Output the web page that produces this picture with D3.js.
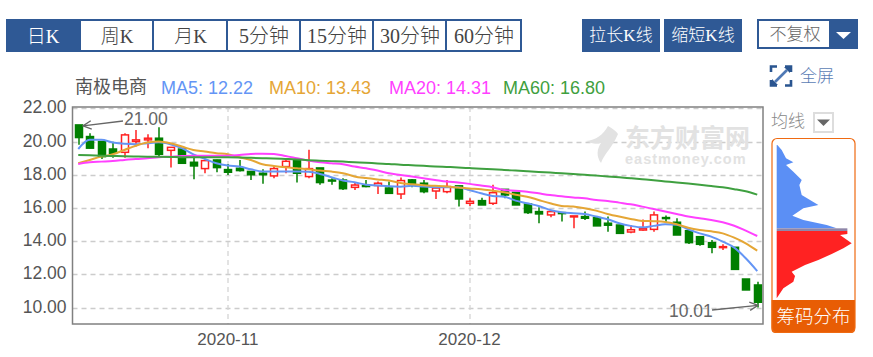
<!DOCTYPE html>
<html lang="zh-CN">
<head>
<meta charset="utf-8">
<script src="https://d3js.org/d3.v7.min.js"></script>
<style>
  html, body { margin: 0; padding: 0; background: #fff; }
  svg { display: block; }
  text { font-family: "Liberation Sans", "Noto Sans CJK SC", sans-serif; }
  .serif { font-family: "Liberation Serif", "Noto Sans CJK SC", serif; font-weight: 300; }
</style>
</head>
<body>
<script>
// candles, one entry per trading day
var opens  = [21.00,20.30,20.00,19.55,19.35,20.00,20.10,20.20,19.47,19.55,18.75,18.37,18.89,18.31,18.39,18.20,18.09,17.93,18.49,18.89,17.89,18.41,17.68,17.68,17.24,17.35,17.35,17.20,16.84,17.69,17.49,17.02,16.98,17.33,16.28,16.44,16.28,17.12,16.94,16.24,15.78,15.58,15.72,15.48,15.48,15.42,15.08,14.97,14.55,14.67,14.71,15.42,15.14,14.63,14.27,13.91,13.63,13.63,11.72,11.36];
var closes = [20.24,19.60,19.09,19.29,20.40,20.10,20.20,19.23,19.65,18.69,18.53,18.85,18.43,18.15,18.25,18.00,18.00,18.37,18.81,18.09,18.37,17.53,17.64,17.16,17.38,17.29,17.49,16.88,17.65,17.45,16.98,17.20,17.29,16.54,16.40,16.18,16.92,16.78,16.18,15.72,15.64,15.78,15.66,15.52,15.38,14.92,14.96,14.47,14.69,14.77,15.58,15.36,14.37,13.91,13.81,13.63,13.67,12.30,11.06,10.32];
var highs  = [21.00,20.50,20.00,19.99,20.50,20.70,20.44,20.86,19.65,19.55,19.23,18.85,18.90,18.65,18.89,18.20,18.33,18.53,18.93,18.89,19.50,18.41,17.79,17.79,17.55,17.69,17.59,17.59,17.83,17.75,17.69,17.20,17.69,17.33,16.58,16.62,17.39,17.12,16.94,16.24,16.04,15.88,15.74,15.52,15.78,15.50,15.48,15.00,14.97,15.30,15.78,15.54,15.38,14.63,14.27,14.07,13.81,13.63,11.72,11.56];
var lows   = [19.80,19.60,18.95,19.03,19.03,19.70,19.60,19.03,18.43,18.69,17.73,18.09,18.15,17.99,18.19,17.69,17.45,17.79,18.09,17.53,17.79,17.39,17.39,17.08,17.08,17.24,16.84,16.84,16.54,17.25,16.88,16.54,16.88,16.08,16.12,16.18,16.18,16.58,16.18,15.64,15.08,15.44,15.18,14.77,15.28,14.92,14.57,14.47,14.47,14.63,14.57,15.16,14.37,13.83,13.73,13.27,13.47,12.30,11.06,10.01];

// moving averages
var ma5  = [19.55,20.10,20.10,19.94,19.86,19.84,19.90,19.95,19.84,19.60,19.23,18.95,18.69,18.55,18.49,18.33,18.19,18.20,18.20,18.20,18.18,18.05,17.85,17.65,17.55,17.40,17.35,17.30,17.28,17.33,17.29,17.25,17.25,17.25,17.08,16.88,16.72,16.68,16.44,16.28,16.12,15.88,15.74,15.68,15.64,15.48,15.32,15.08,14.92,14.83,14.92,15.02,14.99,14.71,14.47,14.27,13.97,13.61,12.97,12.20];
var ma10 = [18.69,18.89,19.09,19.23,19.49,19.75,19.94,20.00,19.90,19.70,19.49,19.40,19.30,19.23,19.05,18.89,18.63,18.53,18.45,18.39,18.33,18.25,18.19,18.09,17.90,17.80,17.72,17.65,17.50,17.43,17.37,17.33,17.29,17.23,17.17,17.13,17.04,16.94,16.80,16.68,16.48,16.28,16.12,16.08,15.98,15.84,15.64,15.48,15.34,15.22,15.20,15.16,15.02,14.81,14.67,14.59,14.47,14.21,13.87,13.43];
var ma20 = [18.65,18.75,18.79,18.83,18.89,18.95,18.99,19.05,19.09,19.13,19.15,19.15,19.15,19.15,19.19,19.25,19.27,19.25,19.13,18.99,18.85,18.75,18.69,18.63,18.49,18.39,18.25,18.09,17.99,17.89,17.79,17.69,17.59,17.53,17.45,17.35,17.25,17.08,17.04,16.98,16.88,16.78,16.70,16.63,16.58,16.48,16.42,16.32,16.22,16.08,15.94,15.78,15.64,15.48,15.38,15.28,15.14,14.93,14.63,14.31];
var ma60 = [19.19,19.17,19.15,19.13,19.11,19.10,19.09,19.08,19.07,19.06,19.06,19.05,19.05,19.05,19.04,19.02,19.00,18.98,18.95,18.92,18.88,18.85,18.82,18.79,18.75,18.72,18.68,18.65,18.60,18.57,18.54,18.50,18.47,18.44,18.40,18.36,18.33,18.29,18.25,18.21,18.17,18.13,18.09,18.05,18.00,17.95,17.90,17.85,17.79,17.73,17.67,17.60,17.53,17.47,17.40,17.32,17.24,17.13,17.00,16.80];

var maNames  = ["MA5: 12.22", "MA10: 13.43", "MA20: 14.31", "MA60: 16.80"];
var yTicks   = [10, 12, 14, 16, 18, 20, 22];
var monthIdx = [13, 34];
var monthLabels = ["2020-11", "2020-12"];
var periodLabels = ["日K", "周K", "月K", "5分钟", "15分钟", "30分钟", "60分钟"];

// chip distribution profile: level from top of the box, volume
var blueLevels = [135,150,175,187,195,215,240,255,285,300,315,325,347,360,375,385];
var blueVolume = [2,15,28,50,28,50,75,68,75,100,125,80,47,80,150,180];
var redLevels  = [393,402,405,430,445,462,480,495,515,528,545,565,595];
var redVolume  = [212,212,190,225,200,165,125,85,45,55,50,20,0];

var svg = d3.select("body").append("svg").attr("width", 873).attr("height", 357);

var margin = { top: 107, right: 110, bottom: 33, left: 72.5 },
  width = 873 - margin.left - margin.right,
  height = 357 - margin.top - margin.bottom,
  g = svg.append("g").attr("transform", "translate(" + margin.left + "," + margin.top + ")");

var x = d3.scaleBand().domain(d3.range(opens.length)).range([0, width]);
var y = d3.scaleLinear().domain([9.01, 22.08]).range([height, 0]);
function cx(i) { return Math.round(x(i) + x.bandwidth() / 2) + 0.5; }

// toolbar
var blue = "#2f5995";
var cellX = [6, 81, 154, 228, 301, 374, 447];
var cellW = [75, 73, 74, 73, 73, 73, 75];
var bar = svg.append("g");
bar.append("rect").attr("x", 6).attr("y", 19).attr("width", 516).attr("height", 33).attr("fill", blue);
periodLabels.forEach(function (label, i) {
  if (i > 0) {
    bar.append("rect").attr("x", cellX[i]).attr("y", 21)
      .attr("width", cellW[i] - 2).attr("height", 29).attr("fill", "#fff");
  }
  bar.append("text").attr("class", "serif")
    .attr("x", cellX[i] + (cellW[i] - 1) / 2).attr("y", 43)
    .style("text-anchor", "middle").style("font-size", i < 3 ? "19px" : "20px")
    .attr("fill", i == 0 ? "#fff" : "#444").text(label);
});

[["拉长K线", 582], ["缩短K线", 664]].forEach(function (b) {
  bar.append("rect").attr("x", b[1]).attr("y", 19).attr("width", 78).attr("height", 33).attr("fill", blue);
  bar.append("text").attr("class", "serif").attr("x", b[1] + 39).attr("y", 41)
    .style("text-anchor", "middle").style("font-size", "17px").attr("fill", "#fff").text(b[0]);
});

bar.append("rect").attr("x", 757).attr("y", 19).attr("width", 101).attr("height", 30).attr("fill", blue);
bar.append("rect").attr("x", 759).attr("y", 21).attr("width", 70).attr("height", 26).attr("fill", "#fff");
bar.append("text").attr("class", "serif").attr("x", 795).attr("y", 40)
  .style("text-anchor", "middle").style("font-size", "17px").attr("fill", "#666").text("不复权");
bar.append("path").attr("d", "M836,32L851,32L843.5,39Z").attr("fill", "#fff");

// fullscreen icon
var icon = svg.append("g").attr("fill", "none").attr("stroke", "#2a5590").attr("stroke-width", 2.6);
icon.append("path").attr("d", "M771,72V66.5H777 M791,72V66.5H785 M771,80V85.5H777 M791,80V85.5H785");
icon.append("path").attr("d", "M775,82L787,70").attr("stroke", "#4f79b5");
svg.append("path").attr("d", "M784,67L790,67L790,73Z M772,79L772,85L778,85Z").attr("fill", "#2a5590");
svg.append("text").attr("class", "serif").attr("x", 800).attr("y", 82)
  .style("font-size", "17px").attr("fill", "#5b7db5").text("全屏");

// legend
svg.append("text").attr("x", 75).attr("y", 93).style("font-size", "18px").attr("fill", "#555").text("南极电商");
var maColors = ["#6495f5", "#e5a635", "#ff40ff", "#3fa040"];
var maX = [161, 269, 389, 503];
maNames.forEach(function (name, i) {
  svg.append("text").attr("x", maX[i]).attr("y", 94).style("font-size", "18px")
    .attr("fill", maColors[i]).text(name);
});

// watermark
var mark = svg.append("g").attr("fill", "#e2e2e2");
mark.append("path").attr("d", "M608,126C603,135 596,140 586,141C592,144 597,144 601,143C597,149 596,156 601,163C604,154 612,148 618,134C616,131 612,128 608,126Z");
mark.append("text").attr("x", 625).attr("y", 147).style("font-size", "25px").style("font-weight", "bold").text("东方财富网");
mark.append("text").attr("x", 625).attr("y", 164).style("font-size", "14.5px").style("font-weight", "bold").style("letter-spacing", "1px").text("eastmoney.com");

// grid
g.selectAll(".hgrid").data(yTicks).enter().append("line").attr("class", "hgrid")
  .attr("x1", 0).attr("x2", width)
  .attr("y1", function (d) { return Math.round(y(d)) + 0.5; })
  .attr("y2", function (d) { return Math.round(y(d)) + 0.5; })
  .attr("stroke", "#ccc").attr("stroke-width", 1.3).attr("stroke-dasharray", "5,4");
g.selectAll(".vgrid").data(monthIdx).enter().append("line").attr("class", "vgrid")
  .attr("x1", cx).attr("x2", cx).attr("y1", 0).attr("y2", height)
  .attr("stroke", "#d4d4d4").attr("stroke-width", 1.3).attr("stroke-dasharray", "5,4");

// axes
var yAxis = g.append("g")
  .call(d3.axisLeft(y).tickValues(yTicks).tickSize(0).tickPadding(6).tickFormat(d3.format(".2f")));
yAxis.select(".domain").remove();
yAxis.selectAll("text").attr("dy", "0.26em").style("font-size", "17.5px").style("font-family", "Liberation Sans").attr("fill", "#555");

var xAxis = g.append("g").attr("transform", "translate(0," + height + ")")
  .call(d3.axisBottom(x).tickValues(monthIdx).tickSize(0).tickPadding(9)
    .tickFormat(function (d) { return monthLabels[monthIdx.indexOf(d)]; }));
xAxis.select(".domain").remove();
xAxis.selectAll("text").style("font-size", "17px").style("font-family", "Liberation Sans").attr("fill", "#555");

// candles
var up = "#ff2020", down = "#007f00";
var candles = g.selectAll(".candle").data(opens).enter().append("g").attr("class", "candle");
candles.append("line")
  .attr("x1", function (d, i) { return cx(i); }).attr("x2", function (d, i) { return cx(i); })
  .attr("y1", function (d, i) { return y(highs[i]); })
  .attr("y2", function (d, i) { return y(lows[i]); })
  .attr("stroke", function (d, i) { return closes[i] >= d ? up : down; })
  .attr("stroke-width", 1.5);
candles.append("rect")
  .attr("x", function (d, i) { return cx(i) - 3.5; })
  .attr("width", 7)
  .attr("y", function (d, i) { return y(Math.max(d, closes[i])); })
  .attr("height", function (d, i) { return Math.max(1, Math.abs(y(d) - y(closes[i]))); })
  .attr("fill", function (d, i) { return closes[i] >= d ? "#fff" : down; })
  .attr("stroke", function (d, i) { return closes[i] >= d ? up : down; })
  .attr("stroke-width", 1.5);

// moving average lines
var line = d3.line()
  .x(function (d, i) { return x(i) + x.bandwidth() / 2; })
  .y(function (d) { return y(d); })
  .curve(d3.curveMonotoneX);
[ma5, ma10, ma20, ma60].forEach(function (m, i) {
  g.append("path").datum(m).attr("d", line).attr("fill", "none")
    .attr("stroke", maColors[i]).attr("stroke-width", 2);
});

// frame
svg.append("rect").attr("x", margin.left).attr("y", margin.top).attr("width", width).attr("height", height)
  .attr("fill", "none").attr("stroke", "#808080").attr("stroke-width", 1.5);

// high / low notes
svg.append("defs").append("marker").attr("id", "head").attr("viewBox", "0 0 10 10")
  .attr("refX", 9).attr("refY", 5).attr("markerWidth", 8).attr("markerHeight", 8)
  .attr("orient", "auto-start-reverse").append("path")
  .attr("d", "M1,1L9,5L1,9").attr("fill", "none").attr("stroke", "#666").attr("stroke-width", 1.3);
function note(i, v, textX, arrowX, textY, arrowY, label) {
  svg.append("text").attr("x", textX).attr("y", textY).style("font-size", "17.5px").attr("fill", "#666").text(label);
  svg.append("line").attr("x1", arrowX).attr("y1", arrowY)
    .attr("x2", margin.left + cx(i) + (i == 0 ? 4 : 0)).attr("y2", margin.top + y(v) + (i == 0 ? 1 : -2))
    .attr("stroke", "#666").attr("stroke-width", 1.3).attr("marker-end", "url(#head)");
}
note(0, 21.0, 124, 123, 125, 121, "21.00");
note(59, 10.01, 669, 712, 317, 310, "10.01");

// chip distribution panel
svg.append("text").attr("class", "serif").attr("x", 771).attr("y", 127)
  .style("font-size", "17px").attr("fill", "#888").text("均线");
svg.append("rect").attr("x", 814).attr("y", 113).attr("width", 19).attr("height", 19)
  .attr("fill", "#fff").attr("stroke", "#ddd").attr("stroke-width", 2);
svg.append("path").attr("d", "M817,119.5L830,119.5L823.5,126Z").attr("fill", "#666");

var levelY = d3.scaleLinear().domain([115, 600]).range([138.3, 300]);
var volX = d3.scaleLinear().domain([0, 225]).range([776.7, 851.7]);
var chipArea = d3.area()
  .x0(volX(0))
  .x1(function (d) { return volX(d[1]); })
  .y(function (d) { return levelY(d[0]); });
svg.append("path").datum(d3.zip(blueLevels, blueVolume)).attr("d", chipArea).attr("fill", "#5b8ff5");
svg.append("rect").attr("x", volX(0)).attr("y", levelY(385)).attr("width", volX(212) - volX(0))
  .attr("height", levelY(393) - levelY(385)).attr("fill", "#8f86a8");
svg.append("path").datum(d3.zip(redLevels, redVolume)).attr("d", chipArea).attr("fill", "#ff2222");

svg.append("path").attr("d", "M771.5,300V329a4,4 0 0 0 4,4H851a4,4 0 0 0 4,-4V300Z").attr("fill", "#e85d04");
svg.append("rect").attr("x", 772).attr("y", 138.5).attr("width", 83).attr("height", 194).attr("rx", 5)
  .attr("fill", "none").attr("stroke", "#ef6a12").attr("stroke-width", 1.2);
svg.append("text").attr("class", "serif").attr("x", 813.5).attr("y", 323)
  .style("text-anchor", "middle").style("font-size", "18.5px").attr("fill", "#fff").text("筹码分布");
</script>
</body>
</html>
